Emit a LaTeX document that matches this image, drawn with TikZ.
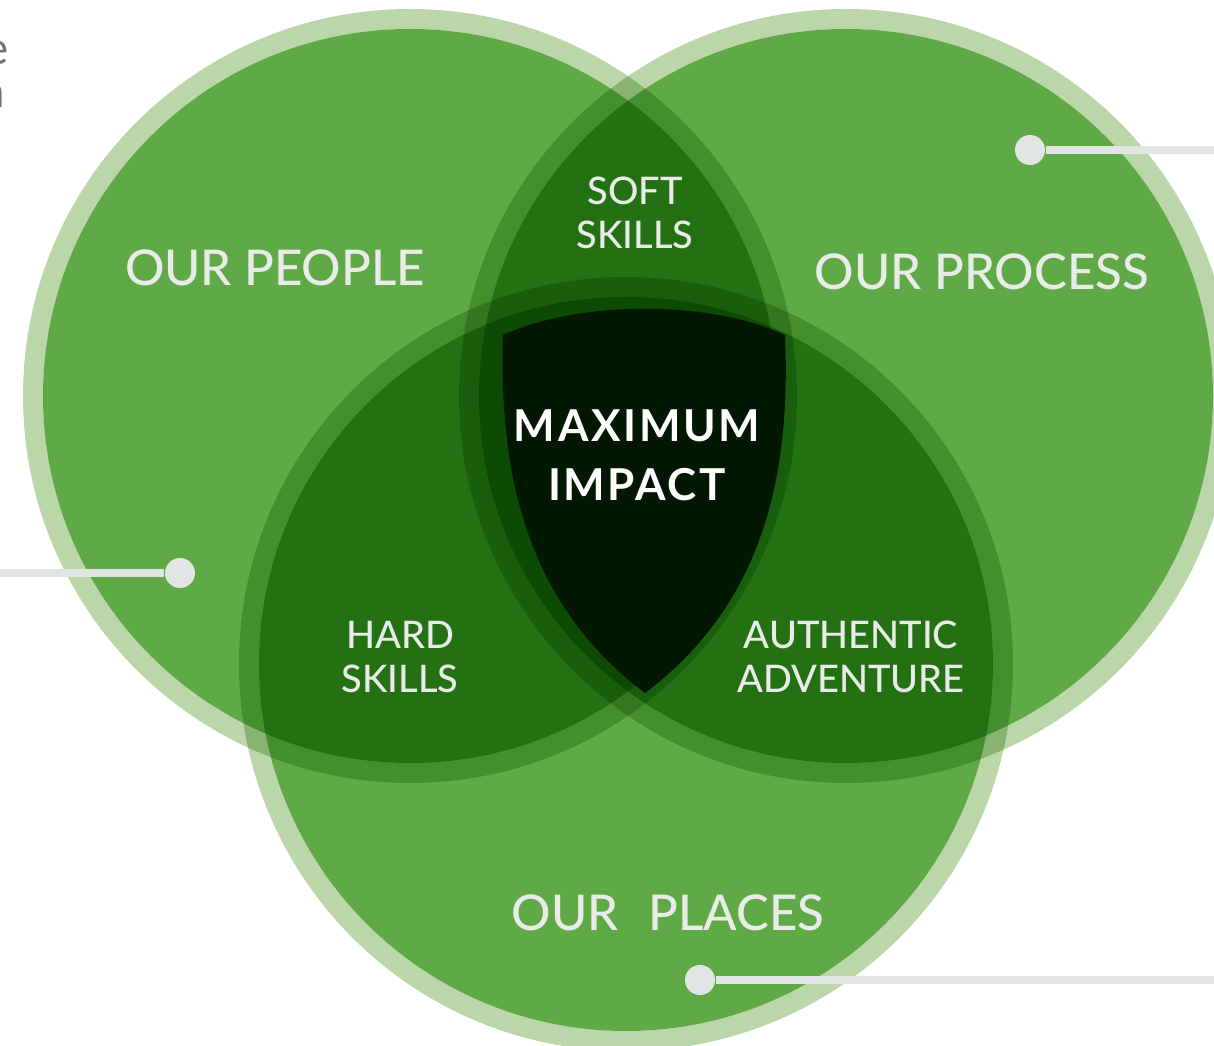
\documentclass[tikz,border=0pt]{standalone}
\usepackage{fontspec}
\setmainfont{Lato}
\newfontfamily\medfont{Lato Medium}
\newfontfamily\corefont{Lato}[LetterSpace=6]
\usetikzlibrary{calc}

\definecolor{ringgreen}{HTML}{BBD6A9}
\definecolor{leafgreen}{HTML}{5FAA46}
\definecolor{coredark}{HTML}{031803}
\definecolor{capgray}{HTML}{E8EBE7}
\definecolor{wiregray}{HTML}{E1E5E3}
\definecolor{notegray}{HTML}{6E7378}

\begin{document}
\begin{tikzpicture}[x=0.01cm, y=-0.01cm,
		ring/.style={fill=ringgreen, even odd rule},
		disc/.style={fill=leafgreen},
		bigtext/.style={text=capgray, inner sep=0pt, font=\medfont\fontsize{14}{17}\selectfont},
		smalltext/.style={text=capgray, inner sep=0pt, align=center, font=\medfont\fontsize{10.8}{12.7}\selectfont},
		coretext/.style={text=white, inner sep=0pt, align=center, font=\corefont\bfseries\fontsize{12.5}{16.8}\selectfont},
		notetext/.style={text=notegray, inner sep=0pt, font=\fontsize{13}{15}\selectfont},
		dot/.style={circle, fill=wiregray, inner sep=0pt, minimum size=0.3cm},
		wire/.style={wiregray, line width=0.08cm}]

		\clip (0,0) rectangle (1214,1046);
		\coordinate (people) at (410,396);
		\coordinate (process) at (846,396);
		\coordinate (places) at (626,664);

		% rings and discs, darker where they overlap
		\begin{scope}[blend group=multiply]
			\foreach \ctr in {people,process,places} {
				\fill[ring] (\ctr) circle (387) circle (367);
				\fill[disc] (\ctr) circle (367);
			}
		\end{scope}

		% the shield in the middle
		\fill[coredark] (503,335) .. controls (580,300) and (710,300) .. (785,335)
			.. controls (792,490) and (755,610) .. (645,693)
			.. controls (535,610) and (498,490) .. (503,335) -- cycle;

		\node[bigtext] (tpeople) at (275,268) {OUR PEOPLE};
		\node[bigtext] (tprocess) at (982,272) {OUR PROCESS};
		\node[bigtext] (tplaces) at (668,913) {OUR\hspace{0.3cm}PLACES};
		\node[smalltext] (tsoft) at (635,213) {SOFT\\SKILLS};
		\node[smalltext] (thard) at (400,657) {HARD\\SKILLS};
		\node[smalltext] (tadv) at (851,657) {AUTHENTIC\\ADVENTURE};
		\node[coretext] (tcore) at (637,455) {MAXIMUM\\IMPACT};

		\node[notetext, anchor=base east] (notea) at (9,65) {e};
		\node[notetext, anchor=base east] (noteb) at (6,108) {n};

		% connectors out to the edge
		\node[dot] (dotprocess) at (1030,150) {};
		\node[dot] (dotpeople) at (180,573) {};
		\node[dot] (dotplaces) at (700,980) {};
		\coordinate (endprocess) at (1214,150);
		\coordinate (endpeople) at (0,573);
		\coordinate (endplaces) at (1214,980);
		\draw[wire] (dotprocess) -- (endprocess);
		\draw[wire] (endpeople) -- (dotpeople);
		\draw[wire] (dotplaces) -- (endplaces);
	\end{tikzpicture}
\end{document}
